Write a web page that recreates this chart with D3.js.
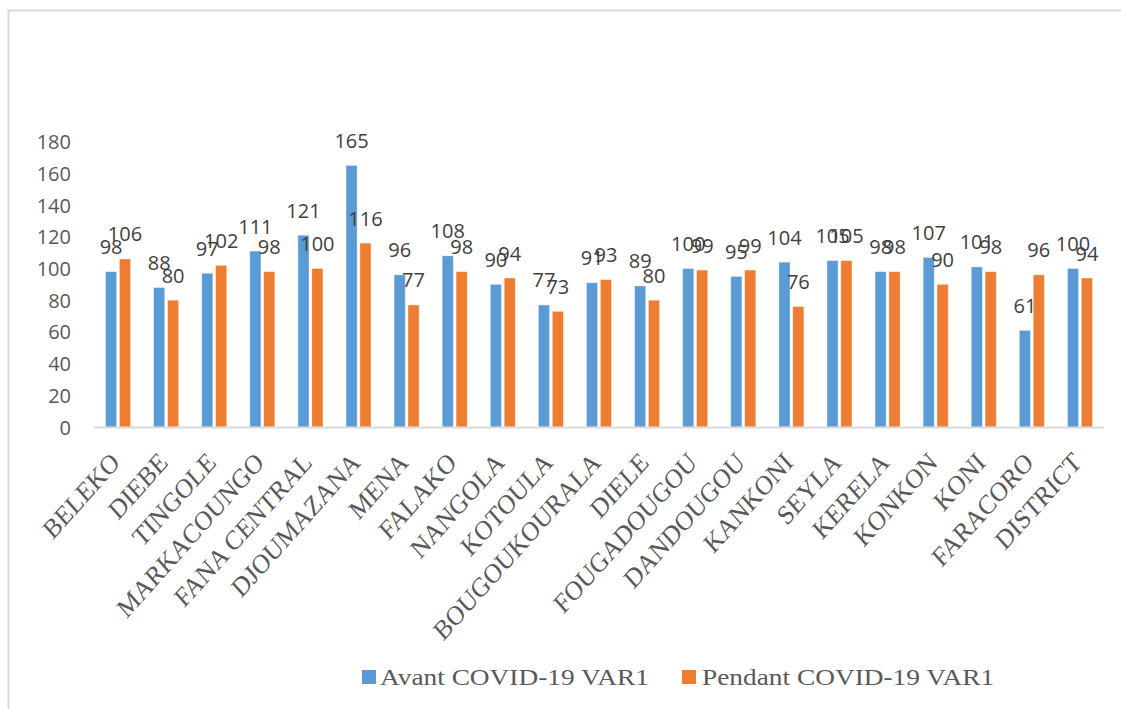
<!DOCTYPE html>
<html>
<head>
<meta charset="utf-8">
<script src="https://cdn.jsdelivr.net/npm/d3@7"></script>
<style>
  body { margin: 0; background: #fff; }
  svg { display: block; }
</style>
</head>
<body>
<svg id="chart" width="1121" height="709"></svg>
<script>
// Health areas and the two measured periods
const categories = ["BELEKO", "DIEBE", "TINGOLE", "MARKACOUNGO", "FANA CENTRAL", "DJOUMAZANA",
  "MENA", "FALAKO", "NANGOLA", "KOTOULA", "BOUGOUKOURALA", "DIELE", "FOUGADOUGOU",
  "DANDOUGOU", "KANKONI", "SEYLA", "KERELA", "KONKON", "KONI", "FARACORO", "DISTRICT"];
const avantValues = [98, 88, 97, 111, 121, 165, 96, 108, 90, 77, 91, 89, 100, 95, 104, 105, 98, 107, 101, 61, 100];
const pendantValues = [106, 80, 102, 98, 100, 116, 77, 98, 94, 73, 93, 80, 99, 99, 76, 105, 98, 90, 98, 96, 94];
const seriesNames = ["Avant COVID-19 VAR1", "Pendant COVID-19 VAR1"];
const seriesColors = ["#5b9bd5", "#ed7d31"];
const yTicks = [0, 20, 40, 60, 80, 100, 120, 140, 160, 180];

const svg = d3.select("#chart");

// Chart frame (only the top and left edges fall inside the canvas)
svg.append("rect")
  .attr("x", 8.5).attr("y", 10.5)
  .attr("width", 1200).attr("height", 800)
  .attr("fill", "none")
  .attr("stroke", "#d9d9d9")
  .attr("stroke-width", 2);

const plot = { left: 94, right: 1104, top: 141.7, bottom: 427 };

const x0 = d3.scaleBand().domain(categories).range([plot.left, plot.right]).padding(0);
const groupWidth = 25;
const x1 = d3.scaleBand().domain(seriesNames).range([0, groupWidth]).paddingInner(0.2);
const y = d3.scaleLinear().domain([0, 180]).range([plot.bottom, plot.top]);

const color = d3.scaleOrdinal().domain(seriesNames).range(seriesColors);

const rows = categories.map((c, i) => ({
  category: c,
  values: [
    { series: seriesNames[0], value: avantValues[i] },
    { series: seriesNames[1], value: pendantValues[i] }
  ]
}));

// Y axis tick labels
const yAxis = d3.axisLeft(y).tickValues(yTicks).tickSize(0).tickPadding(0);
const yg = svg.append("g")
  .attr("transform", `translate(71,0)`)
  .call(yAxis);
yg.select(".domain").remove();
yg.selectAll("text")
  .attr("font-family", "'Open Sans', sans-serif")
  .attr("font-size", 20)
  .attr("fill", "#595959")
  .attr("dy", "0.35em");

// Bars
const groups = svg.append("g").selectAll("g")
  .data(rows)
  .join("g")
  .attr("transform", d => `translate(${x0(d.category) + x0.bandwidth() / 2 - groupWidth / 2},0)`);

groups.selectAll("rect")
  .data(d => d.values)
  .join("rect")
  .attr("x", d => x1(d.series))
  .attr("y", d => y(d.value))
  .attr("width", x1.bandwidth())
  .attr("height", d => y(0) - y(d.value))
  .attr("fill", d => color(d.series))
  .attr("stroke", "#ffffff")
  .attr("stroke-opacity", 0.45)
  .attr("stroke-width", 0.8);

// Value labels above each bar
groups.selectAll("text")
  .data(d => d.values)
  .join("text")
  .attr("x", d => x1(d.series) + x1.bandwidth() / 2)
  .attr("y", d => y(d.value) - 17.5)
  .attr("text-anchor", "middle")
  .attr("font-family", "'Open Sans', sans-serif")
  .attr("font-size", 20)
  .attr("fill", "#404040")
  .text(d => d.value);

// Category axis baseline
svg.append("line")
  .attr("x1", plot.left).attr("x2", plot.right)
  .attr("y1", y(0) + 0.5).attr("y2", y(0) + 0.5)
  .attr("stroke", "#d9d9d9")
  .attr("stroke-width", 2);

// Rotated category labels
const xAxis = d3.axisBottom(x0).tickSize(0).tickPadding(0);
const xg = svg.append("g")
  .call(xAxis);
xg.select(".domain").remove();
xg.selectAll(".tick")
  .attr("transform", d => `translate(${x0(d) + x0.bandwidth() / 2 + 3},464)`);
xg.selectAll(".tick text")
  .attr("x", 0).attr("y", 0).attr("dy", 0)
  .attr("text-anchor", "end")
  .attr("transform", "scale(1,1.12) rotate(-45)")
  .attr("font-family", "'Liberation Serif', 'Times New Roman', serif")
  .attr("font-size", 24.5)
  .attr("fill", "#595959");

// Legend
const legendItems = [
  { name: seriesNames[0], sx: 362, tx: 380 },
  { name: seriesNames[1], sx: 682, tx: 702 }
];
const legend = svg.append("g").selectAll("g")
  .data(legendItems)
  .join("g");
legend.append("rect")
  .attr("x", d => d.sx).attr("y", 670)
  .attr("width", 14).attr("height", 14)
  .attr("fill", d => color(d.name));
legend.append("text")
  .attr("transform", d => `translate(${d.tx},685) scale(1.14,1)`)
  .attr("font-family", "'Liberation Serif', 'Times New Roman', serif")
  .attr("font-size", 24)
  .attr("fill", "#595959")
  .text(d => d.name);
</script>
</body>
</html>
